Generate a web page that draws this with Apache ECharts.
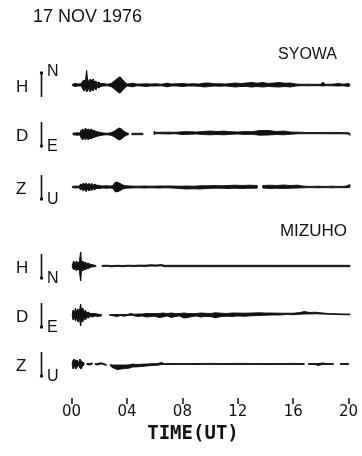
<!DOCTYPE html>
<html><head><meta charset="utf-8">
<script src="https://cdn.jsdelivr.net/npm/echarts@6/dist/echarts.min.js"></script>
<style>html,body{margin:0;padding:0;background:#fff}#c{width:362px;height:456px}</style>
</head><body><div id="c"></div>
<script>
// ---- data: envelopes [time (h UT), lower, upper] in trace amplitude units ----
const timeTicks = [0, 4, 8, 12, 16, 20];
const tickLabels = ['00', '04', '08', '12', '16', '20'];
const stations = ['SYOWA', 'MIZUHO'];
const components = ['H', 'D', 'Z'];
const directions = ['N', 'E', 'U'];

const syowaH = [[0.05,-0.5,0.5],[0.25,-1.5,1.5],[0.5,-1,1],[0.7,-1,1.5],[0.8,-4,4],[0.9,-6,5],[1.0,-3,4],[1.08,-7,15],[1.15,-6,6],[1.25,-3,3],[1.35,-7,6],[1.45,-4,4],[1.55,-6,6],[1.65,-3,3],[1.75,-5,4],[1.85,-2,2],[1.95,-3,3],[2.1,-1.5,1.5],[2.3,-1,1.5],[2.6,-0.8,0.8],[2.85,-1.5,1.5],[3.05,-3.5,3.5],[3.25,-6,6],[3.45,-8,8],[3.55,-7.5,7.5],[3.7,-5,5],[3.9,-2,2],[4.05,-1,1],[4.4,-1.8,1.8],[4.7,-0.8,1],[5.0,-1,1],[5.4,-1.5,1.2],[5.7,-1,1],[6.1,-1,1.2],[6.5,-0.8,0.8],[6.9,-1.8,1.8],[7.2,-1,1],[7.6,-1,1.2],[8.0,-1.5,1.5],[8.4,-1,1],[8.8,-1,1.2],[9.2,-1.2,1],[9.6,-2,2],[9.9,-1.5,2],[10.3,-1,1.2],[10.7,-1.2,1.2],[11.1,-1,1],[11.5,-1.5,1.5],[11.8,-2,2],[12.2,-1.5,1.5],[12.6,-1.5,2],[13.0,-2,2.5],[13.4,-1.5,1.8],[13.8,-2,2.5],[14.2,-1.5,1.5],[14.6,-1.8,2],[15.0,-2,2.5],[15.4,-1.5,1.8],[15.8,-2,2],[16.2,-1,1],[16.6,-0.7,0.7],[17.0,-0.8,0.8],[17.5,-0.7,0.7],[18.0,-0.8,0.8],[18.15,-1,3],[18.3,-0.7,0.7],[18.8,-0.8,0.8],[19.3,-1,1.5],[19.6,-0.8,0.8],[20.0,-1.5,1.5],[20.1,-0.5,0.5]];

const syowaD = [[0.1,-0.8,0.8],[0.4,-1.2,1.2],[0.6,-1,1],[0.7,-4,4],[0.8,-6,5],[0.9,-3,3],[1.0,-6,6],[1.1,-3,4],[1.2,-6,5],[1.3,-4,4],[1.4,-5,5],[1.5,-4,4],[1.6,-3.5,3.5],[1.8,-2.5,2.5],[2.0,-1.8,1.8],[2.3,-1,1],[2.6,-0.8,0.8],[2.9,-1.5,1.5],[3.1,-3,3],[3.3,-5,5],[3.45,-6,6],[3.6,-5,5],[3.8,-2.5,2.5],[4.0,-1,1],[4.1,-0.8,0.8],[4.2,null,null],[4.35,-0.7,0.7],[5.15,-0.7,0.7],[5.5,null,null],[5.95,-0.5,3],[6.05,0.3,1.7],[6.6,0.2,1.8],[7.0,0,1.8],[7.5,0.3,1.7],[8.0,-0.5,2.2],[8.5,-0.3,2.3],[9.0,0,2],[9.5,-0.5,2.5],[10.0,-0.8,3],[10.5,-0.5,2.5],[11.0,-0.8,2.8],[11.5,-0.3,2.3],[12.0,0,2],[12.5,-0.5,2.5],[13.0,-0.3,2.3],[13.6,-1.2,3.5],[14.2,-1,3.5],[14.8,-0.5,2.5],[15.3,-0.8,3],[15.8,-0.3,2],[16.3,0.2,1.8],[17.0,0.3,1.5],[17.8,0.3,1.5],[18.6,0.2,1.6],[19.4,0.2,1.5],[20.0,0,1.2],[20.1,-1.5,0.5]];

const syowaZ = [[0.05,-0.6,0.6],[0.3,-1,1],[0.55,-0.8,0.8],[0.65,-3,3],[0.75,-1.5,2],[0.85,-4,4],[0.95,-2,2.5],[1.05,-4.5,4],[1.15,-2,2],[1.25,-4,3.5],[1.35,-2,2],[1.45,-3.5,3.5],[1.55,-1.5,1.5],[1.65,-3,3],[1.8,-1.5,2],[2.0,-1.5,1.5],[2.2,-1,1],[2.5,-1.2,1.2],[2.8,-1,1],[3.0,-1.5,1.5],[3.1,-4,4],[3.2,-5,5],[3.35,-4.5,4.5],[3.5,-3.5,3.5],[3.7,-2,2],[3.9,-1.2,1.2],[4.3,-1,1],[4.8,-0.8,0.8],[5.3,-1,1],[5.8,-0.8,0.8],[6.3,-1,1],[6.8,-0.8,1],[7.3,-1,1],[7.8,-1.5,0.8],[8.3,-2,1],[8.8,-1.8,0.8],[9.3,-2,1.2],[9.8,-1.5,1.2],[10.3,-1.2,1.5],[10.8,-1.2,1.2],[11.3,-1.5,1.5],[11.8,-1.2,1.8],[12.3,-1.5,1.5],[12.8,-1.2,1.8],[13.4,-1.2,1.5],[13.65,null,null],[13.8,-1,1.5],[14.3,-1.5,1.8],[14.8,-1.2,1.5],[15.3,-1.5,2],[15.8,-1.2,1.5],[16.3,-1,1.8],[16.8,-0.8,0.8],[17.3,-0.6,0.6],[17.8,-0.8,0.8],[18.3,-0.6,0.6],[18.8,-0.8,0.8],[19.3,-0.6,0.6],[19.8,-0.8,0.8],[20.1,-0.5,2.5]];

const mizuhoH = [[0.05,-1,1],[0.15,-4,5],[0.25,-2,2],[0.35,-5,5],[0.45,-3,3],[0.55,-4,4],[0.65,-15,14],[0.72,-3,3],[0.8,-5,5],[0.9,-3,3],[1.0,-4,4],[1.1,-2.5,2.5],[1.2,-3,3],[1.3,-1.5,2],[1.45,-1,1.5],[1.6,-0.8,1],[1.75,-0.5,0.5],[1.9,null,null],[2.2,-0.6,0.6],[2.5,-0.3,0.8],[2.9,-0.8,0.4],[3.3,-0.4,0.7],[3.7,-0.7,0.5],[4.1,-0.3,0.8],[4.5,-0.6,0.6],[4.9,-0.2,0.9],[5.3,-0.5,0.8],[5.7,0,1.2],[6.1,-0.2,1],[6.5,0.2,1.4],[6.7,-0.7,0.7],[10,-0.7,0.7],[15,-0.7,0.7],[20.1,-0.7,0.7]];

const mizuhoD = [[0.05,-1,1],[0.12,-5,5],[0.2,-2,2],[0.28,-6,7],[0.36,-3,3],[0.45,-7,6],[0.55,-3,3],[0.65,-11,11],[0.72,-4,4],[0.8,-7,7],[0.9,-3,3],[1.0,-5,5],[1.1,-2,2],[1.2,-3,3],[1.35,-1.5,1.5],[1.5,-2,1.5],[1.7,-1,1.5],[1.9,-1.5,0.8],[2.15,-1,0.5],[2.4,null,null],[2.75,-0.5,0.5],[3.0,-0.8,0.5],[3.3,-1.5,0.5],[3.5,-0.5,0.5],[3.8,-1.2,0.5],[4.0,-0.5,0.5],[4.3,-0.3,1.5],[4.5,-0.8,0.8],[4.8,-1.5,1],[5.1,-1,1],[5.4,-2,1.5],[5.7,-1.5,1.5],[6.0,-1.2,1.5],[6.3,-2.5,1.5],[6.6,-2,2],[6.9,-1,1.5],[7.2,-2.5,2],[7.5,-1.5,1.5],[7.8,-1,1.5],[8.1,-3,2],[8.4,-2.5,1.5],[8.7,-1.5,1.5],[9.0,-1,1.5],[9.3,-2,2],[9.6,-1.5,1.8],[10.0,-1.5,1.5],[10.4,-2.8,2.2],[10.8,-1.5,1.8],[11.2,-1.2,1.5],[11.6,-1.5,2],[12.0,-1,2],[12.5,-1.2,1.8],[13.0,-0.8,2],[13.5,-0.5,2.2],[14.0,-0.3,2],[14.5,0,2],[15.0,0,1.8],[15.5,0.5,1.8],[16.0,0.3,1.8],[16.5,0.8,2.5],[16.8,1,3.5],[17.2,1,2.5],[17.6,1.2,2.8],[18.0,1,2.2],[18.5,0.8,1.5],[19.0,0.5,1.3],[19.5,0.3,1.1],[20.1,0.2,1]];

const mizuhoZ = [[0.05,-2,1],[0.12,-5,4],[0.2,-2,5],[0.3,-5,3],[0.4,-3,4],[0.5,-1,1],[0.6,-4,5],[0.7,-5,3],[0.8,-2,2],[0.9,-1,1],[0.95,null,null],[1.1,-0.5,0.5],[1.3,-1,0.5],[1.5,0,1],[1.6,null,null],[1.7,-0.5,0.5],[1.9,-1,0.5],[2.1,0,1.2],[2.3,-0.5,0.5],[2.5,-1.5,-0.5],[2.6,null,null],[2.8,-2,-0.5],[3.0,-4,-1],[3.3,-5.5,-1],[3.6,-5,-1],[3.9,-4.5,-1],[4.2,-4,-0.8],[4.4,-3,0],[4.6,-3,-0.5],[5.0,-2.5,-0.3],[5.4,-2,0],[5.8,-1.5,0.3],[6.2,-1.2,0.5],[6.5,-0.5,1.5],[6.7,-0.5,0.3],[7.0,-0.5,0.5],[8,-0.4,0.5],[9,-0.5,0.5],[10,-0.4,0.6],[11,-0.5,0.5],[12,-0.5,0.6],[13,-0.4,0.5],[14,-0.6,0.5],[15,-0.5,0.5],[16,-0.5,0.6],[16.8,-0.5,0.5],[17.0,null,null],[17.1,-0.5,0.5],[17.6,-0.5,0.5],[17.8,-1.5,0.5],[18.1,-0.5,1],[18.4,-0.5,0.5],[18.9,-0.5,0.5],[19.1,null,null],[19.4,-0.5,0.5],[20.0,-0.5,0.5]];

const traceData = [syowaH, syowaD, syowaZ, mizuhoH, mizuhoD, mizuhoZ];

// ---- layout ----
const baselines = [85, 134, 187, 266, 315, 364];
const arrowUp = [true, false, false, false, false, false];
const GL = 71.6, GR = 13.4;
const INK = '#111';

const grids = [], xAxes = [], yAxes = [], series = [], graphic = [];
traceData.forEach((arr, k) => {
  const base = baselines[k];
  grids.push({ left: GL, right: GR, top: base - 20, height: 40 });
  xAxes.push({ gridIndex: k, type: 'value', min: 0, max: 20, show: false });
  yAxes.push({ gridIndex: k, type: 'value', min: -20, max: 20, show: false });
  series.push({
    type: 'custom', xAxisIndex: k, yAxisIndex: k, clip: false, silent: true,
    encode: { x: 0, y: [1, 2] },
    data: arr,
    renderItem: function (params, api) {
      const i = params.dataIndex;
      const a = arr[i], b = arr[i + 1];
      if (!b || a[1] == null || b[1] == null) return null;
      const pts = [api.coord([a[0], a[2]]), api.coord([b[0], b[2]]), api.coord([b[0], b[1]]), api.coord([a[0], a[1]])];
      return { type: 'polygon', shape: { points: pts }, style: { fill: INK, stroke: INK, lineWidth: 0.9 } };
    }
  });
  // component label and direction arrow
  graphic.push({ type: 'text', x: 16, y: base + 2, style: { text: components[k % 3], font: '17px "Liberation Sans"', fill: INK, textVerticalAlign: 'middle' } });
  const up = arrowUp[k];
  graphic.push({ type: 'line', shape: { x1: 41.5, y1: base - 12, x2: 41.5, y2: base + 12 }, style: { stroke: INK, lineWidth: 1.6 } });
  graphic.push({ type: 'circle', shape: { cx: 41.5, cy: up ? base - 12 : base + 12, r: 1.7 }, style: { fill: INK } });
  graphic.push({ type: 'text', x: 47, y: up ? base - 13 : base + 13, style: { text: directions[k % 3], font: '16px "Liberation Sans"', fill: INK, textVerticalAlign: 'middle' } });
});

// time axis
const ax = traceData.length;
grids.push({ left: GL, right: GR, top: 390, height: 14 });
xAxes.push({
  gridIndex: ax, type: 'value', min: 0, max: 20, interval: 4,
  axisLine: { show: false }, splitLine: { show: false },
  axisTick: { show: true, inside: true, length: 6, lineStyle: { color: INK, width: 1.5 } },
  axisLabel: { margin: 1, color: INK, fontSize: 15, fontFamily: 'DejaVu Sans',
    formatter: v => tickLabels[timeTicks.indexOf(v)] }
});
yAxes.push({ gridIndex: ax, type: 'value', show: false });

graphic.push({ type: 'text', x: 33, y: 17, style: { text: '17 NOV 1976', font: '18px "Liberation Sans"', fill: INK, textVerticalAlign: 'middle' } });
graphic.push({ type: 'text', x: 337, y: 55, style: { text: stations[0], font: '16px "Liberation Sans"', fill: INK, textAlign: 'right', textVerticalAlign: 'middle' } });
graphic.push({ type: 'text', x: 347, y: 231, style: { text: stations[1], font: '17px "Liberation Sans"', fill: INK, textAlign: 'right', textVerticalAlign: 'middle' } });
graphic.push({ type: 'text', x: 193, y: 434, style: { text: 'TIME(UT)', font: 'bold 19px "DejaVu Sans Mono"', fill: INK, textAlign: 'center', textVerticalAlign: 'middle' } });

const chart = echarts.init(document.getElementById('c'), null, { renderer: 'canvas' });
chart.setOption({
  animation: false,
  backgroundColor: '#fff',
  grid: grids, xAxis: xAxes, yAxis: yAxes, series: series, graphic: graphic
});
</script></body></html>
